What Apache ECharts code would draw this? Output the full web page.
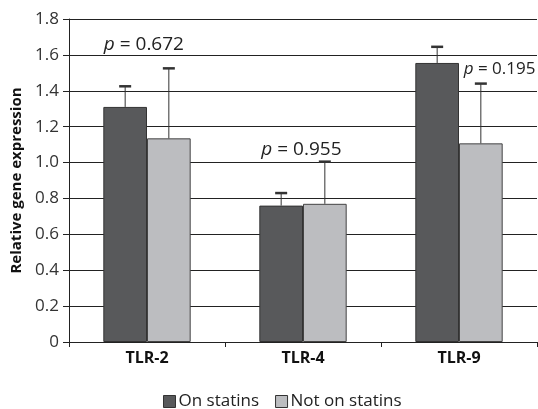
<!DOCTYPE html>
<html>
<head>
<meta charset="utf-8">
<script src="https://cdn.jsdelivr.net/npm/echarts@6/dist/echarts.min.js"></script>
<style>
  html, body { margin: 0; padding: 0; background: #fff; }
  #chart { width: 538px; height: 409px; }
</style>
</head>
<body>
<div id="chart"></div>
<script>
const categories = ['TLR-2', 'TLR-4', 'TLR-9'];
const onStatins = [1.31, 0.76, 1.555];
const onStatinsErr = [1.425, 0.83, 1.645];
const notOnStatins = [1.135, 0.77, 1.107];
const notOnStatinsErr = [1.525, 1.005, 1.44];
// p-value labels: [category index, y value, text, horizontal shift in category widths, font size]
const pLabels = [
  [0, 1.66, '0.672', -0.02, 19],
  [1, 1.07, '0.955', -0.01, 19],
  [2, 1.52, '0.195', 0.26, 17]
];

const FONT = '"Open Sans", "DejaVu Sans", sans-serif';
const chart = echarts.init(document.getElementById('chart'));

function errorBar(seriesIndex, errTops, barValues) {
  return {
    type: 'custom',
    name: 'err' + seriesIndex,
    silent: true,
    z: 5,
    data: errTops.map((v, i) => [i, barValues[i], v]),
    renderItem: function (params, api) {
      const idx = api.value(0);
      const bandW = api.size([1, 0])[0];
      const barW = bandW * 0.28;
      const cx = api.coord([idx, 0])[0] + (seriesIndex === 0 ? -barW / 2 : barW / 2);
      const yBar = api.coord([idx, api.value(1)])[1];
      const yTop = api.coord([idx, api.value(2)])[1];
      const half = 6;
      return {
        type: 'group',
        children: [
          { type: 'line', shape: { x1: cx, y1: yBar, x2: cx, y2: yTop }, style: { stroke: '#333', lineWidth: 1 } },
          { type: 'line', shape: { x1: cx - half, y1: yTop, x2: cx + half, y2: yTop }, style: { stroke: '#333', lineWidth: 2.5 } }
        ]
      };
    }
  };
}

chart.setOption({
  animation: false,
  backgroundColor: '#fff',
  grid: { left: 69, right: 1, top: 19, bottom: 67 },
  legend: {
    data: ['On statins', 'Not on statins'],
    bottom: -6,
    left: 158,
    itemWidth: 12,
    itemHeight: 12,
    itemGap: 16,
    icon: 'rect',
    textStyle: { fontFamily: FONT, fontSize: 17, color: '#222', padding: [0, 0, 0, -2] },
    itemStyle: { borderColor: '#333', borderWidth: 1 }
  },
  xAxis: {
    type: 'category',
    data: categories,
    axisLine: { lineStyle: { color: '#222', width: 1 } },
    axisTick: { show: true, length: 5, lineStyle: { color: '#222' } },
    axisLabel: { fontFamily: FONT, fontWeight: 'bold', fontSize: 16, color: '#111', margin: 8 }
  },
  yAxis: {
    type: 'value',
    min: 0,
    max: 1.8,
    interval: 0.2,
    name: 'Relative gene expression',
    nameLocation: 'middle',
    nameGap: 44,
    nameTextStyle: { fontFamily: FONT, fontWeight: 'bold', fontSize: 15, color: '#111' },
    axisLine: { show: true, lineStyle: { color: '#222', width: 1 } },
    axisTick: { show: true, length: 6, lineStyle: { color: '#222' } },
    axisLabel: {
      fontFamily: FONT, fontSize: 17, color: '#333', margin: 10,
      formatter: v => (v === 0 ? '0' : v.toFixed(1))
    },
    splitLine: { show: true, lineStyle: { color: '#222', width: 1 } }
  },
  series: [
    {
      name: 'On statins',
      type: 'bar',
      data: onStatins,
      barGap: '0%',
      barCategoryGap: '44%',
      itemStyle: { color: '#58595b', borderColor: '#333', borderWidth: 1 }
    },
    {
      name: 'Not on statins',
      type: 'bar',
      data: notOnStatins,
      itemStyle: { color: '#bcbdc0', borderColor: '#444', borderWidth: 1 }
    },
    errorBar(0, onStatinsErr, onStatins),
    errorBar(1, notOnStatinsErr, notOnStatins),
    {
      type: 'custom',
      silent: true,
      z: 10,
      data: pLabels,
      renderItem: function (params, api) {
        const idx = api.value(0);
        const bandW = api.size([1, 0])[0];
        const pt = api.coord([idx, api.value(1)]);
        const p = pLabels[params.dataIndex];
        return {
          type: 'text',
          x: pt[0] + p[3] * bandW,
          y: pt[1],
          style: {
            rich: {
              i: { fontFamily: FONT, fontStyle: 'italic', fontSize: p[4], fill: '#222' },
              n: { fontFamily: FONT, fontSize: p[4], fill: '#222' }
            },
            text: '{i|p}{n| = ' + p[2] + '}',
            align: 'center',
            verticalAlign: 'middle',
            backgroundColor: '#fff'
          }
        };
      }
    }
  ]
});
</script>
</body>
</html>
